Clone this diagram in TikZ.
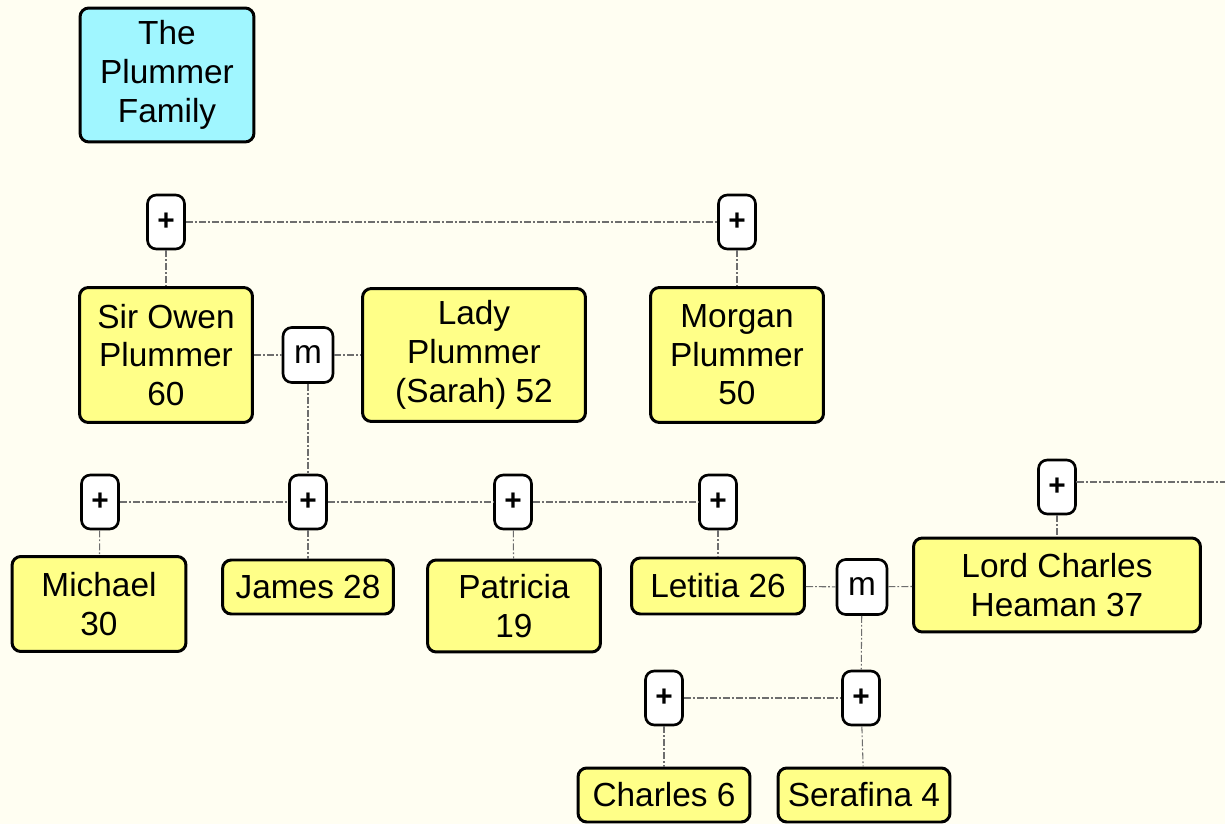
\documentclass[tikz,border=0pt]{standalone}
\usepackage{fontspec}
\setmainfont{Liberation Sans}
\usepackage{tikz}
\definecolor{paper}{RGB}{255,254,242}
\definecolor{person}{RGB}{255,255,136}
\definecolor{title}{RGB}{160,246,255}
\definecolor{link}{RGB}{110,110,110}

\begin{document}
\begin{tikzpicture}[x=0.02cm,y=-0.02cm,
		person/.style={draw=black,line width=1.7pt,rounded corners=5pt,fill=person,align=center,inner sep=0pt,font=\fontsize{19}{22}\selectfont},
		plus/.style={draw=black,line width=1.5pt,rounded corners=5pt,fill=white,inner sep=0pt,minimum width=0.74cm,minimum height=1.08cm,font=\fontsize{17}{20}\selectfont\bfseries},
		marr/.style={plus,minimum width=1cm,minimum height=1.1cm,font=\fontsize{19}{22}\selectfont},
		kin/.style={draw=link,line width=0.6pt,dash pattern=on 4pt off 1.2pt on 1pt off 1.2pt}]
		\fill[paper] (0,0) rectangle (1225,824);
		\useasboundingbox (0,0) rectangle (1225,824);
		% title
		\node[person,fill=title,minimum width=3.48cm,minimum height=2.68cm] (fam) at (167,75) {The\\Plummer\\Family};
		% first generation
		\node[plus] (po) at (166,222) {+};
		\node[plus] (pm) at (737,222) {+};
		\node[person,minimum width=3.46cm,minimum height=2.7cm] (owen) at (166,355) {Sir Owen\\Plummer\\60};
		\node[marr] (m1) at (308,355) {m};
		\node[person,minimum width=4.46cm,minimum height=2.66cm] (lady) at (474,355) {Lady\\Plummer\\(Sarah) 52};
		\node[person,minimum width=3.46cm,minimum height=2.7cm] (morgan) at (737,355) {Morgan\\Plummer\\50};
		\draw[kin] (po) -- (pm);
		\draw[kin] (po) -- (owen);
		\draw[kin] (pm) -- (morgan);
		\draw[kin] (owen) -- (m1) -- (lady);
		% children
		\node[plus] (pmi) at (100,502) {+};
		\node[plus] (pja) at (308,502) {+};
		\node[plus] (ppa) at (513,502) {+};
		\node[plus] (ple) at (718,502) {+};
		\node[plus] (plc) at (1057,487) {+};
		\coordinate (edge) at (1225,482);
		\node[person,minimum width=3.48cm,minimum height=1.9cm] (michael) at (99,604) {Michael\\30};
		\node[person,minimum width=3.42cm,minimum height=1.08cm] (james) at (308,587) {James 28};
		\node[person,minimum width=3.46cm,minimum height=1.84cm] (patricia) at (514,606) {Patricia\\19};
		\node[person,minimum width=3.46cm,minimum height=1.12cm] (letitia) at (718,586) {Letitia 26};
		\node[marr] (m2) at (862,587) {m};
		\node[person,minimum width=5.74cm,minimum height=1.88cm] (lord) at (1057,585) {Lord Charles\\Heaman 37};
		\draw[kin] (m1) -- (pja);
		\draw[kin] (pmi) -- (pja) -- (ppa) -- (ple);
		\draw[kin] (pmi) -- (michael);
		\draw[kin] (pja) -- (james);
		\draw[kin] (ppa) -- (patricia);
		\draw[kin] (ple) -- (letitia);
		\draw[kin] (plc) -- (plc.east |- edge) -- (edge);
		\draw[kin] (plc) -- (lord);
		\draw[kin] (letitia) -- (m2) -- (lord);
		% grandchildren
		\node[plus] (pch) at (664,698) {+};
		\node[plus] (pse) at (861,698) {+};
		\node[person,minimum width=3.44cm,minimum height=1.08cm] (charles) at (664,795) {Charles 6};
		\node[person,minimum width=3.44cm,minimum height=1.08cm] (serafina) at (864,795) {Serafina 4};
		\draw[kin] (m2) -- (pse);
		\draw[kin] (pch) -- (pse);
		\draw[kin] (pch) -- (charles);
		\draw[kin] (pse) -- (serafina);
	\end{tikzpicture}
\end{document}
